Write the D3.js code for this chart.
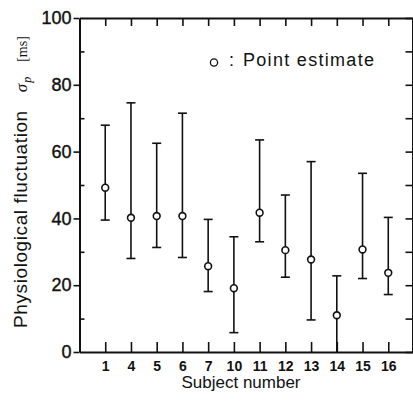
<!DOCTYPE html>
<html>
  <head>
    <script src="https://d3js.org/d3.v7.min.js"></script>
    <style>
      body { margin: 0; background: #fff; }
      text { font-family: "Liberation Sans", Arial, sans-serif; fill: #111; }
      .domain, .tick line { stroke: #111; }
    </style>
  </head>
  <body>
    <div id="chart"></div>
    <script>
      const subjects = ["1", "4", "5", "6", "7", "10", "11", "12", "13", "14", "15", "16"];
      const estimate = [49.2, 40.2, 40.7, 40.7, 25.7, 19.1, 41.7, 30.5, 27.7, 11.0, 30.7, 23.7];
      const lower = [39.5, 28.0, 31.3, 28.3, 18.1, 5.8, 33.0, 22.4, 9.6, 0, 22.0, 17.2];
      const upper = [67.9, 74.6, 62.5, 71.5, 39.7, 34.5, 63.5, 47.0, 57.0, 22.8, 53.5, 40.3];
      const majorTicks = [0, 20, 40, 60, 80, 100];
      const minorTicks = [10, 30, 50, 70, 90];
      const allTicks = [0, 10, 20, 30, 40, 50, 60, 70, 80, 90, 100];

      const width = 413, height = 401;
      const plot = { left: 79.5, right: 414, top: 18, bottom: 352 };

      const svg = d3.select("#chart").append("svg")
        .attr("width", width)
        .attr("height", height);

      // index 1..12 for the subjects, evenly spaced
      const x = d3.scaleLinear().domain([0, subjects.length + 1]).range([plot.left, plot.right]);
      const y = d3.scaleLinear().domain([0, 100]).range([plot.bottom, plot.top]);
      const idx = subjects.map((d, i) => i + 1);

      // left axis: labelled major ticks outward
      const gl = svg.append("g")
        .attr("transform", `translate(${plot.left},0)`)
        .call(d3.axisLeft(y).tickValues(majorTicks).tickSizeInner(6).tickSizeOuter(0).tickPadding(2));
      gl.selectAll("text").style("font-size", "18px")
        .attr("stroke", "#111").attr("stroke-width", 0.4);
      // minor ticks inward
      svg.append("g")
        .attr("transform", `translate(${plot.left},0)`)
        .call(d3.axisRight(y).tickValues(minorTicks).tickSize(5).tickFormat(""))
        .select(".domain").remove();

      // bottom axis: ticks point up into the plot
      const gb = svg.append("g")
        .attr("transform", `translate(0,${plot.bottom})`)
        .call(d3.axisBottom(x).tickValues(idx).tickFormat((d) => subjects[d - 1])
          .tickSizeInner(-10).tickSizeOuter(0).tickPadding(9));
      gb.selectAll("text").style("font-size", "14px").style("font-weight", "bold");

      // top axis
      svg.append("g")
        .attr("transform", `translate(0,${plot.top})`)
        .call(d3.axisBottom(x).tickValues(idx).tickFormat("").tickSizeInner(8).tickSizeOuter(0));

      // right axis
      svg.append("g")
        .attr("transform", `translate(${width - 0.5},0)`)
        .call(d3.axisLeft(y).tickValues(allTicks).tickFormat("").tickSizeInner(7).tickSizeOuter(0));

      svg.selectAll(".domain").attr("stroke-width", 2);
      svg.selectAll(".tick line").attr("stroke-width", 1.6);

      // error bars
      const bars = svg.append("g").attr("stroke", "#111").attr("stroke-width", 1.6);
      idx.forEach((k, i) => {
        bars.append("line")
          .attr("x1", x(k)).attr("x2", x(k))
          .attr("y1", y(lower[i])).attr("y2", y(upper[i]));
        bars.append("line")
          .attr("x1", x(k) - 4.5).attr("x2", x(k) + 4.5)
          .attr("y1", y(upper[i])).attr("y2", y(upper[i]));
        if (lower[i] > 0) {
          bars.append("line")
            .attr("x1", x(k) - 4.5).attr("x2", x(k) + 4.5)
            .attr("y1", y(lower[i])).attr("y2", y(lower[i]));
        }
      });

      // point estimates
      svg.append("g")
        .selectAll("circle")
        .data(estimate)
        .join("circle")
        .attr("cx", (d, i) => x(i + 1))
        .attr("cy", (d) => y(d))
        .attr("r", 3.4)
        .attr("fill", "#fff")
        .attr("stroke", "#111")
        .attr("stroke-width", 1.6);

      // legend
      svg.append("circle")
        .attr("cx", 214).attr("cy", 62.5).attr("r", 3.6)
        .attr("fill", "#fff").attr("stroke", "#111").attr("stroke-width", 1.3);
      svg.append("text").attr("x", 229).attr("y", 66).style("font-size", "18px").text(":");
      svg.append("text").attr("x", 243).attr("y", 66)
        .style("font-size", "18px").style("letter-spacing", "1.3px")
        .text("Point estimate");

      // axis titles
      svg.append("text")
        .attr("x", 241).attr("y", 388)
        .attr("text-anchor", "middle")
        .style("font-size", "17px")
        .text("Subject number");

      const yl = svg.append("text")
        .attr("transform", "translate(27,328) rotate(-90)")
        .style("font-size", "19px");
      yl.append("tspan").style("letter-spacing", "0.6px").text("Physiological fluctuation");
      yl.append("tspan").attr("dx", 18)
        .style("font-family", "'Liberation Serif', serif")
        .style("font-style", "italic").style("font-size", "17px").text("σ");
      yl.append("tspan").attr("dy", 4).attr("dx", 1)
        .style("font-family", "'Liberation Serif', serif")
        .style("font-style", "italic").style("font-size", "12px").text("p");
      yl.append("tspan").attr("dy", -4).attr("dx", 15)
        .style("font-family", "'Liberation Serif', serif").style("font-size", "14px").text("[ms]");
    </script>
  </body>
</html>
